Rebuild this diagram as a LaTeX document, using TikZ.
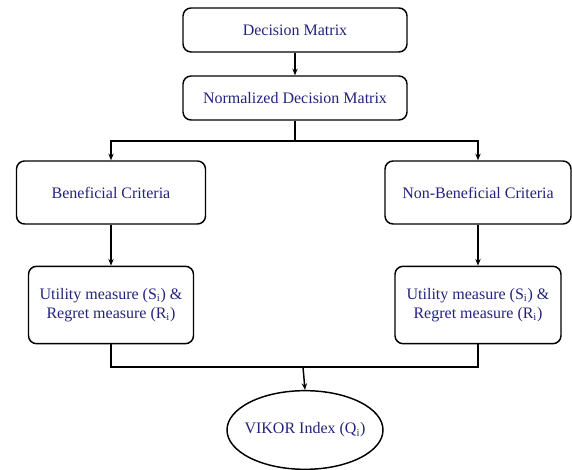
\documentclass[tikz,border=0pt]{standalone}
\usepackage{fontspec}
\setmainfont{Liberation Serif}
\usetikzlibrary{arrows.meta,shapes.geometric}
\definecolor{textblue}{RGB}{35,35,125}

\tikzset{
  stepbox/.style={draw, line width=1.1pt, rounded corners=6pt, align=center,
    text=textblue, font=\fontsize{12}{14.5}\selectfont, inner sep=0pt},
  flow/.style={line width=1.1pt, -{Stealth[length=5pt,width=4pt]}},
  link/.style={line width=1.1pt}
}

\begin{document}
\begin{tikzpicture}[x=0.75pt,y=-0.75pt]
\useasboundingbox (0,0) rectangle (572,470);
\node[stepbox, minimum width=168pt, minimum height=33pt] (dm) at (295,30) {Decision Matrix};
\node[stepbox, minimum width=168pt, minimum height=33pt] (ndm) at (295,98) {Normalized Decision Matrix};
\node[stepbox, minimum width=141.75pt, minimum height=47.25pt] (ben) at (111,192.5) {Beneficial Criteria};
\node[stepbox, minimum width=139.5pt, minimum height=47.25pt] (nben) at (478,192.5) {Non-Beneficial Criteria};
\node[stepbox, minimum width=123.75pt, minimum height=58pt] (ub) at (111,305) {Utility measure (S\textsubscript{i}) \&\\Regret measure (R\textsubscript{i})};
\node[stepbox, minimum width=124.5pt, minimum height=58pt] (un) at (478,305) {Utility measure (S\textsubscript{i}) \&\\Regret measure (R\textsubscript{i})};
\node[ellipse, draw, line width=1.1pt, text=textblue, font=\fontsize{12}{14.5}\selectfont,
  minimum width=117pt, minimum height=59pt, inner xsep=-6pt, inner ysep=0pt] (vk) at (305,430) {VIKOR Index (Q\textsubscript{i})};
\coordinate (split) at (295,141);
\coordinate (merge) at (303,367);
\draw[flow] (dm) -- (ndm);
\draw[link] (ndm) -- (split);
\draw[flow] (split) -| (ben.north);
\draw[flow] (split) -| (nben.north);
\draw[flow] (ben) -- (ub);
\draw[flow] (nben) -- (un);
\draw[link] (ub.south) |- (merge);
\draw[link] (un.south) |- (merge);
\draw[flow] (merge) -- (vk.north);
\end{tikzpicture}
\end{document}
